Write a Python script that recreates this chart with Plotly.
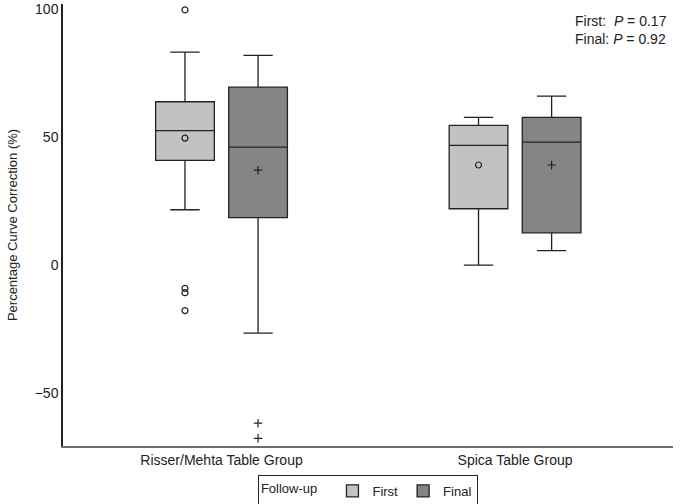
import plotly.graph_objects as go

# groups on the x axis
groups = ['Risser/Mehta Table Group', 'Spica Table Group']

# box statistics, one value per group
first_q1 = [40.9, 22.0]
first_median = [52.5, 46.8]
first_q3 = [63.8, 54.6]
first_low = [21.6, 0.0]
first_high = [83.2, 57.7]
first_mean = [49.6, 39.1]

final_q1 = [18.5, 12.6]
final_median = [46.1, 48.0]
final_q3 = [69.5, 57.7]
final_low = [-26.6, 5.6]
final_high = [81.9, 66.0]
final_mean = [37.1, 39.1]

# outliers (group index, value)
first_out_group = [0, 0, 0, 0]
first_out_vals = [99.7, -9.1, -10.8, -17.8]
final_out_group = [0, 0]
final_out_vals = [-61.8, -67.7]

offset = 0.1245
box_w = 0.2
first_color = '#c2c2c2'
final_color = '#858585'

fig = go.Figure()


def add_group(name, sign, q1, med, q3, lo, hi, mean, out_g, out_v, fill, symbol):
    xs = [i + sign * offset for i in range(len(groups))]
    fig.add_trace(go.Box(
        name=name, x=xs, q1=q1, median=med, q3=q3,
        lowerfence=lo, upperfence=hi,
        width=box_w, whiskerwidth=0.5,
        fillcolor=fill, line=dict(color='#222222', width=1.3),
        boxpoints=False, hoverinfo='skip',
    ))
    # mean marker
    fig.add_trace(go.Scatter(
        x=xs, y=mean, mode='markers', showlegend=False, hoverinfo='skip',
        marker=dict(symbol=symbol, size=6, color='#222222',
                    line=dict(width=1.2, color='#222222')),
    ))
    # outliers
    fig.add_trace(go.Scatter(
        x=[g + sign * offset for g in out_g], y=out_v, mode='markers',
        showlegend=False, hoverinfo='skip',
        marker=dict(symbol=symbol, size=6, color='#222222',
                    line=dict(width=1.2, color='#222222')),
    ))


add_group('First', -1, first_q1, first_median, first_q3, first_low, first_high,
          first_mean, first_out_group, first_out_vals, first_color, 'circle-open')
add_group('Final', 1, final_q1, final_median, final_q3, final_low, final_high,
          final_mean, final_out_group, final_out_vals, final_color, 'cross-thin-open')

fig.add_annotation(
    xref='paper', yref='paper', x=0.993, y=0.985, xanchor='right', yanchor='top',
    align='left', showarrow=False,
    text='First:  <i>P</i> = 0.17<br>Final: <i>P</i> = 0.92',
    font=dict(size=14, color='#222222'),
)

fig.update_layout(
    width=680, height=504,
    margin=dict(l=63, r=7, t=4, b=58),
    paper_bgcolor='white', plot_bgcolor='white',
    font=dict(family='Liberation Sans, Arial, sans-serif', size=14, color='#222222'),
    showlegend=True,
    legend=dict(
        title=dict(text='Follow-up  ', font=dict(size=13), side='left'),
        orientation='h',
        xref='container', yref='container',
        x=0.541, xanchor='center', y=0.026, yanchor='middle',
        bordercolor='#222222', borderwidth=1, font=dict(size=13),
        itemwidth=30, tracegroupgap=0,
    ),
    xaxis=dict(
        range=[-0.54, 1.538], tickvals=list(range(len(groups))), ticktext=groups,
        showgrid=False, zeroline=False, showline=True, linecolor='#6a6a6a',
        linewidth=2, ticks='', fixedrange=True, automargin=False,
    ),
    yaxis=dict(
        range=[-70.7, 102], tickvals=[-50, 0, 50, 100],
        title=dict(text='Percentage Curve Correction (%)', standoff=14,
                   font=dict(size=13)),
        showgrid=False, zeroline=False, showline=True, linecolor='#222222',
        linewidth=1.5, ticks='', automargin=False, fixedrange=True,
    ),
)

# the page's default 8px body margin would push the figure off the window
fig.write_html('out.html', config={'displayModeBar': False},
               post_script="document.body.style.margin='0';")
